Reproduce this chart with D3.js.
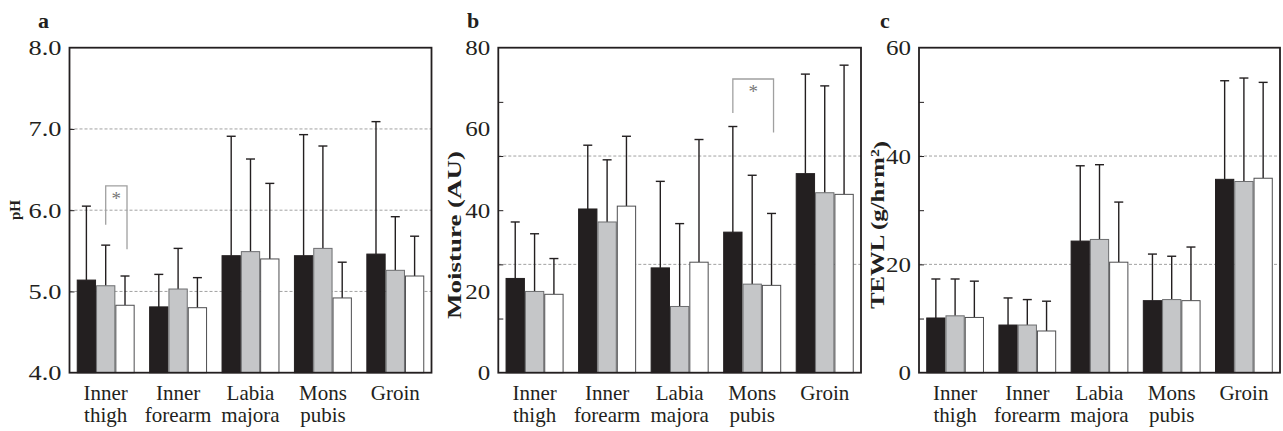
<!DOCTYPE html>
<html>
<head>
<meta charset="utf-8">
<title>pH / Moisture / TEWL</title>
<script src="https://cdn.jsdelivr.net/npm/d3@7"></script>
<style>
body { margin: 0; background: #fff; }
svg text { font-family: "Liberation Serif", "Times New Roman", serif; fill: #231f20; }
.grid { stroke: #8a8a8a; stroke-width: 0.8; stroke-dasharray: 3,2; }
.frame { fill: none; stroke: #231f20; stroke-width: 1.8; }
.err { stroke: #231f20; stroke-width: 1.4; }
.sig { fill: none; stroke: #a0a0a0; stroke-width: 1.3; }
</style>
</head>
<body>
<script>
// categories (two text lines each)
var categories = [["Inner", "thigh"], ["Inner", "forearm"], ["Labia", "majora"], ["Mons", "pubis"], ["Groin"]];
var seriesNames = ["g1", "g2", "g3"];
var seriesFill = ["#231f20", "#c5c6c8", "#ffffff"];
var seriesStroke = ["#231f20", "#6d6e70", "#4d4d4f"];

// pH : mean and SD per category, 3 groups
var phMean = [[5.14, 5.07, 4.83], [4.81, 5.03, 4.80], [5.44, 5.49, 5.40], [5.44, 5.53, 4.92], [5.46, 5.26, 5.19]];
var phSD   = [[0.91, 0.50, 0.36], [0.40, 0.50, 0.37], [1.47, 1.14, 0.93], [1.49, 1.26, 0.44], [1.63, 0.66, 0.49]];
var phTicks = [4, 5, 6, 7, 8];
var phGrid = [5, 6, 7];

// Moisture (AU)
var moistMean = [[23.2, 20.0, 19.3], [40.3, 37.1, 41.0], [25.8, 16.3, 27.2], [34.6, 21.8, 21.5], [49.0, 44.3, 43.9]];
var moistSD   = [[13.9, 14.2, 8.8], [15.7, 15.3, 17.2], [21.3, 20.4, 30.2], [26.0, 26.8, 17.7], [24.5, 26.3, 31.8]];
var moistTicks = [0, 20, 40, 60, 80];
var moistGrid = [80 / 3, 160 / 3];
var moistMinor = [80 / 6, 160 / 6, 240 / 6, 320 / 6, 400 / 6];

// TEWL (g/hrm2)
var tewlMean = [[10.1, 10.5, 10.2], [8.8, 8.8, 7.7], [24.3, 24.6, 20.4], [13.3, 13.5, 13.3], [35.7, 35.3, 35.9]];
var tewlSD   = [[7.2, 6.8, 6.7], [5.0, 4.7, 5.5], [13.9, 13.8, 11.1], [8.6, 8.0, 9.9], [18.2, 19.1, 17.7]];
var tewlTicks = [0, 20, 40, 60];
var tewlGrid = [20, 40];
var tewlMinor = [10, 20, 30, 40, 50];

var W = 1283, H = 431;
var plotTop = 47.7, plotBottom = 372.7;

var svg = d3.select("body").append("svg")
    .attr("width", W)
    .attr("height", H);

function panel(opt) {
    var g = svg.append("g");
    var x = d3.scaleBand()
        .domain(d3.range(categories.length))
        .range([opt.left, opt.right])
        .paddingInner(0.2)
        .paddingOuter(0.1);
    var xs = d3.scaleBand()
        .domain(seriesNames)
        .range([0, x.bandwidth()]);
    var y = d3.scaleLinear()
        .domain(opt.domain)
        .range([plotBottom, plotTop]);

    // gridlines
    g.selectAll(".grid").data(opt.grid).enter().append("line")
        .attr("class", "grid")
        .attr("x1", opt.left).attr("x2", opt.right)
        .attr("y1", function(d) { return y(d); })
        .attr("y2", function(d) { return y(d); });

    // bars
    var rows = opt.mean.map(function(m, i) {
        return m.map(function(v, j) { return {cat: i, s: j, v: v, sd: opt.sd[i][j]}; });
    });
    var flat = [].concat.apply([], rows);

    g.selectAll(".errg").data(flat).enter().append("g").each(function(d) {
        var cx = x(d.cat) + xs(seriesNames[d.s]) + xs.bandwidth() / 2;
        var sel = d3.select(this);
        sel.append("line").attr("class", "err")
            .attr("x1", cx).attr("x2", cx)
            .attr("y1", y(d.v)).attr("y2", y(d.v + d.sd));
        sel.append("line").attr("class", "err")
            .attr("x1", cx - 4.5).attr("x2", cx + 4.5)
            .attr("y1", y(d.v + d.sd)).attr("y2", y(d.v + d.sd));
    });

    g.selectAll(".bar").data(flat).enter().append("rect")
        .attr("x", function(d) { return x(d.cat) + xs(seriesNames[d.s]) + 0.5; })
        .attr("width", xs.bandwidth() - 1)
        .attr("y", function(d) { return y(d.v); })
        .attr("height", function(d) { return plotBottom - y(d.v); })
        .attr("fill", function(d) { return seriesFill[d.s]; })
        .attr("stroke", function(d) { return seriesStroke[d.s]; })
        .attr("stroke-width", 1);

    // significance bracket
    if (opt.sig) {
        var s = opt.sig;
        var xa = x(s.cat) + xs(seriesNames[s.from]) + xs.bandwidth() / 2;
        var xb = x(s.cat) + xs(seriesNames[s.to]) + xs.bandwidth() / 2 + 2;
        g.append("path").attr("class", "sig")
            .attr("d", "M" + xa + "," + y(s.lowA) + "V" + y(s.top) + "H" + xb + "V" + y(s.lowB));
        g.append("text")
            .attr("x", (xa + xb) / 2)
            .attr("y", y(s.top) + 19)
            .attr("text-anchor", "middle")
            .style("font-size", "19px")
            .style("fill", "#777")
            .text("*");
    }

    // y axis labels
    var ya = g.append("g")
        .attr("transform", "translate(" + opt.left + ",0)")
        .call(d3.axisLeft(y).tickValues(opt.ticks).tickSize(0).tickPadding(8).tickFormat(opt.fmt));
    ya.select(".domain").remove();
    ya.selectAll("text")
        .style("font-family", "Liberation Serif, serif")
        .style("font-size", "22px")
        .attr("fill", "#231f20")
        .attr("textLength", function() {
            var s = this.textContent;
            return s.replace(".", "").length * 12.5 + (s.indexOf(".") >= 0 ? 8 : 0);
        })
        .attr("lengthAdjust", "spacingAndGlyphs");

    // inner minor ticks
    var ym = g.append("g")
        .attr("transform", "translate(" + opt.left + ",0)")
        .call(d3.axisLeft(y).tickValues(opt.minor).tickSizeInner(-5).tickSizeOuter(0).tickFormat(""));
    ym.select(".domain").remove();
    ym.selectAll("line").attr("stroke", "#231f20").attr("stroke-width", 1);

    // x axis
    var xa2 = g.append("g")
        .attr("transform", "translate(0," + plotBottom + ")")
        .call(d3.axisBottom(x).tickSize(0).tickPadding(0).tickFormat(""));
    xa2.select(".domain").remove();
    xa2.selectAll(".tick text").remove();
    xa2.selectAll(".tick").append("text")
        .attr("text-anchor", "middle")
        .style("font-family", "Liberation Serif, serif")
        .style("font-size", "21px")
        .attr("fill", "#231f20")
        .each(function(i) {
            var t = d3.select(this);
            categories[i].forEach(function(line, k) {
                t.append("tspan").attr("x", 0).attr("y", 27 + k * 22).text(line);
            });
        });

    // frame
    g.append("rect").attr("class", "frame")
        .attr("x", opt.left).attr("y", plotTop)
        .attr("width", opt.right - opt.left).attr("height", plotBottom - plotTop);

    // panel letter
    g.append("text")
        .attr("x", opt.letterX).attr("y", 28)
        .style("font-size", "22px").style("font-weight", "bold")
        .text(opt.letter);

    // y title
    var tt = g.append("text")
        .attr("transform", "translate(" + opt.titleX + "," + opt.titleY + ") rotate(-90)")
        .attr("text-anchor", "middle")
        .style("font-size", opt.titleSize + "px")
        .style("font-weight", "bold");
    if (opt.titleLen) {
        tt.attr("textLength", opt.titleLen).attr("lengthAdjust", "spacingAndGlyphs");
    }
    opt.title(tt);
}

panel({
    left: 69.5, right: 431.5, domain: [4, 8],
    mean: phMean, sd: phSD, ticks: phTicks, grid: phGrid, minor: phGrid,
    fmt: d3.format(".1f"),
    sig: {cat: 0, from: 1, to: 2, top: 6.30, lowA: 5.82, lowB: 5.52},
    letter: "a", letterX: 38,
    titleX: 20, titleY: 210, titleSize: 15,
    title: function(t) { t.text("pH"); }
});

panel({
    left: 498.3, right: 861, domain: [0, 80],
    mean: moistMean, sd: moistSD, ticks: moistTicks, grid: moistGrid, minor: moistMinor,
    fmt: d3.format("d"),
    sig: {cat: 3, from: 0, to: 2, top: 72.3, lowA: 63.9, lowB: 59.1},
    letter: "b", letterX: 467,
    titleX: 461, titleY: 235, titleSize: 18, titleLen: 168,
    title: function(t) { t.text("Moisture (AU)"); }
});

panel({
    left: 919, right: 1280, domain: [0, 60],
    mean: tewlMean, sd: tewlSD, ticks: tewlTicks, grid: tewlGrid, minor: tewlMinor,
    fmt: d3.format("d"),
    sig: null,
    letter: "c", letterX: 880,
    titleX: 884, titleY: 225, titleSize: 19, titleLen: 168,
    title: function(t) {
        t.append("tspan").text("TEWL (g/hrm");
        t.append("tspan").attr("dy", "-0.45em").style("font-size", "12px").text("2");
        t.append("tspan").attr("dy", "0.45em").text(")");
    }
});
</script>
</body>
</html>
